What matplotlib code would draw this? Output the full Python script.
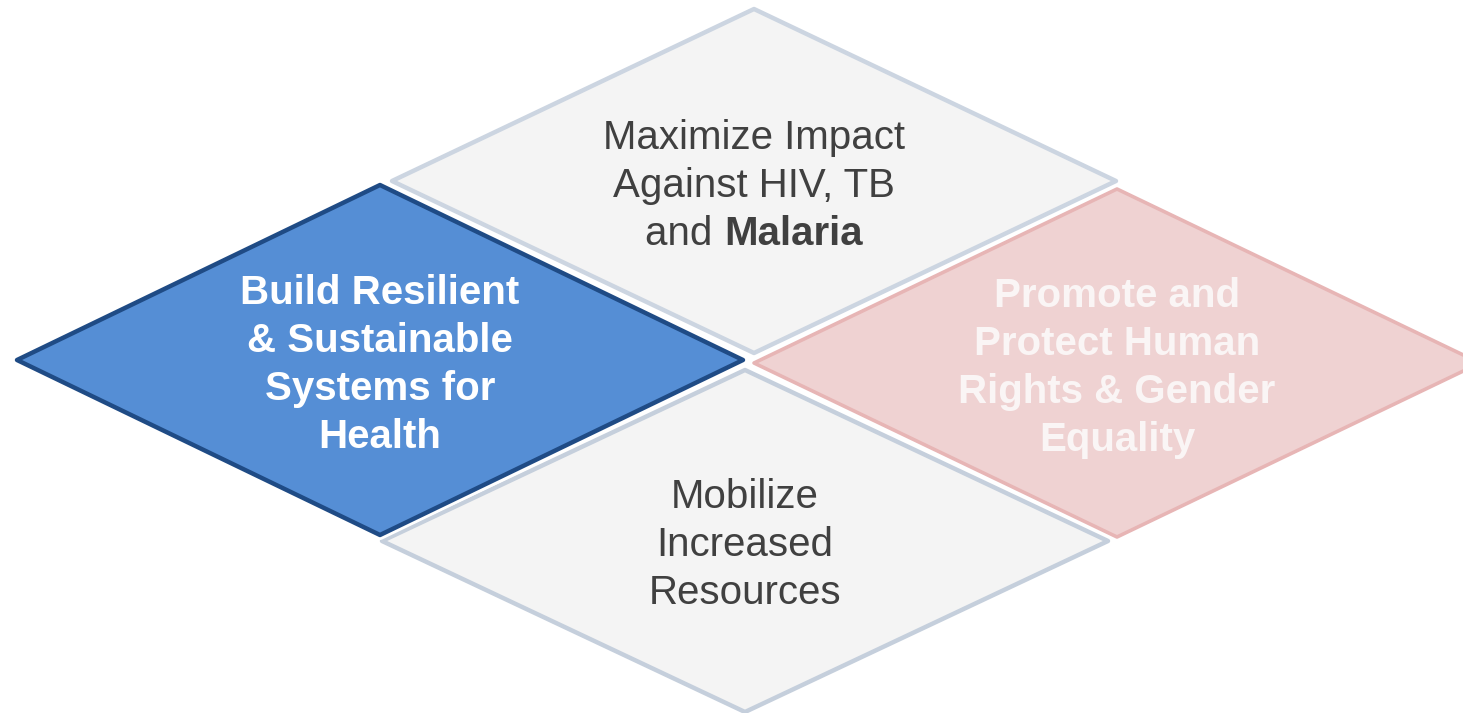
import matplotlib
matplotlib.use("Agg")
import matplotlib.pyplot as plt
from matplotlib.patches import Polygon
import matplotlib.patheffects as pe

plt.rcParams['font.family'] = ['Liberation Sans', 'DejaVu Sans']

# Content
top_lines = ["Maximize Impact", "Against HIV, TB"]
top_last_plain = "and "
top_last_bold = "Malaria"
left_lines = ["Build Resilient", "& Sustainable", "Systems for", "Health"]
right_lines = ["Promote and", "Protect Human", "Rights & Gender", "Equality"]
bottom_lines = ["Mobilize", "Increased", "Resources"]

W, H = 1463, 713
fig = plt.figure(figsize=(W / 100, H / 100), dpi=100)
ax = fig.add_axes([0, 0, 1, 1])
ax.set_xlim(0, W)
ax.set_ylim(H, 0)
ax.axis('off')


def diamond(cx, cy, hw, hh, fc, ec, lw, z):
    pts = [(cx, cy - hh), (cx + hw, cy), (cx, cy + hh), (cx - hw, cy)]
    p = Polygon(pts, closed=True, facecolor=fc, edgecolor=ec, linewidth=lw,
                joinstyle='round', zorder=z)
    p.set_path_effects([pe.Stroke(linewidth=lw + 4, foreground='white'), pe.Normal()])
    ax.add_patch(p)


diamond(754, 181, 362, 172, '#F4F4F4', '#CCD5E1', 3.2, 1)
diamond(745, 541, 363, 171, '#F4F4F4', '#C5CFDC', 3.2, 1)
diamond(380, 360, 363, 175, '#558ED5', '#1F4B85', 3.2, 2)
diamond(1117, 363, 363, 174, '#EFD2D2', '#E7B5B5', 2.6, 2)

FS = 29
LH = 48


def block(lines, cx, cy, color, bold, n_total=None):
    n = n_total or len(lines)
    y0 = cy - (n - 1) * LH / 2
    for i, s in enumerate(lines):
        ax.text(cx, y0 + i * LH, s, ha='center', va='center', fontsize=FS,
                color=color, fontweight='bold' if bold else 'normal', zorder=5)
    return y0


y0 = block(top_lines, 754, 186, '#404040', False, n_total=3)
# mixed last line
fig.canvas.draw()
r = fig.canvas.get_renderer()
t1 = ax.text(0, 0, top_last_plain, fontsize=FS, color='#404040', va='center')
t2 = ax.text(0, 0, top_last_bold, fontsize=FS, color='#404040', va='center', fontweight='bold')
w1 = t1.get_window_extent(r).width
w2 = t2.get_window_extent(r).width
total = w1 + w2
xs = 754 - total / 2
yl = y0 + 2 * LH
t1.set_position((xs, yl)); t1.set_ha('left'); t1.set_zorder(5)
t2.set_position((xs + w1, yl)); t2.set_ha('left'); t2.set_zorder(5)

block(left_lines, 380, 365, 'white', True)
block(right_lines, 1117, 368, '#FAF5F5', True)
block(bottom_lines, 745, 545, '#404040', False)

fig.savefig('out.png', dpi=100, facecolor='white')
